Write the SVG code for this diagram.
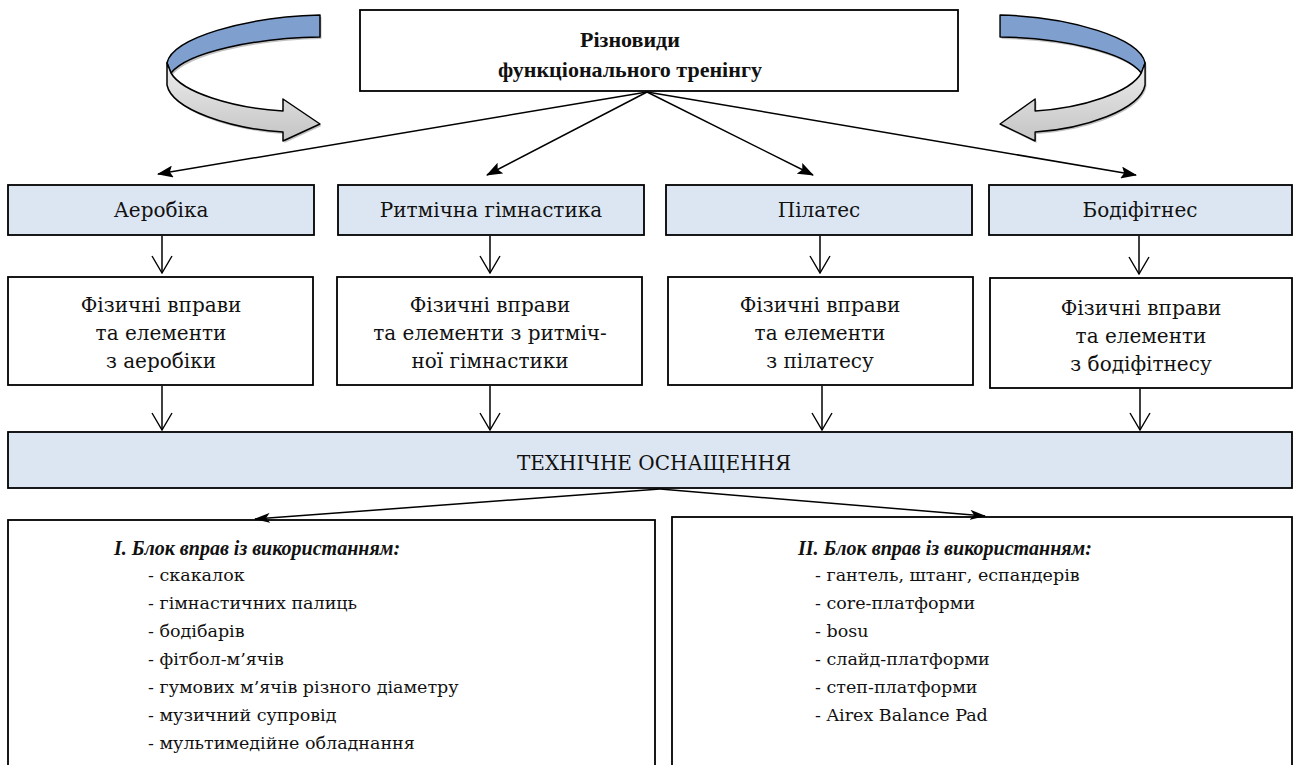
<svg xmlns="http://www.w3.org/2000/svg" width="1294" height="765" viewBox="0 0 1294 765">
<style>
text{font-family:"DejaVu Serif","Liberation Serif",serif;fill:#111}
.t{font-size:20px;text-anchor:middle}
.b{font-family:"Liberation Serif","DejaVu Serif",serif;font-weight:bold;font-size:22px}
.bi{font-family:"Liberation Serif","DejaVu Serif",serif;font-weight:bold;font-style:italic;font-size:20px;text-anchor:middle}
.li{font-size:17.5px}
.box{fill:#fff;stroke:#000;stroke-width:1.8}
.hd{fill:#DCE6F2;stroke:#000;stroke-width:1.8}
.con line{stroke:#000;stroke-width:1.5;fill:none}
</style>
<defs>
<marker id="tri" markerUnits="userSpaceOnUse" markerWidth="16" markerHeight="12" viewBox="0 0 16 12" refX="15" refY="6" orient="auto">
<path d="M0,0 L16,6 L0,12 L3,6 Z" fill="#000"/>
</marker>
<marker id="stealth" markerUnits="userSpaceOnUse" markerWidth="16" markerHeight="10" viewBox="0 0 16 10" refX="15" refY="5" orient="auto">
<path d="M0,0 L16,5 L0,10 L4,5 Z" fill="#000"/>
</marker>
<marker id="vee" markerUnits="userSpaceOnUse" markerWidth="20" markerHeight="24" viewBox="-2 -2 20 24" refX="17" refY="10" orient="auto">
<path d="M0,0 L17,10 L0,20" fill="none" stroke="#000" stroke-width="1.4"/>
</marker>
<linearGradient id="grey" x1="0" y1="0" x2="0" y2="1">
<stop offset="0" stop-color="#EDEDED"/>
<stop offset="1" stop-color="#C4C4C4"/>
</linearGradient>
<path id="curlShadow" d="M320,15 C245,17 172,38 167,63 L167,85 C172,110 232,129 283,132 L283,141 L320,124 L283,99 L283,111 C232,108 182,92 171,73 C188,52 255,38 320,37 Z" fill="#666"/>
<g id="curl">
<path d="M320,15 C245,17 172,38 167,63 L171,73 C188,52 255,38 320,37 Z" fill="#7F9FCF" stroke="#000" stroke-width="1.5" stroke-linejoin="round"/>
<path d="M167,63 L167,85 C172,110 232,129 283,132 L283,141 L320,124 L283,99 L283,111 C232,108 182,92 171,73 Z" fill="url(#grey)" stroke="#000" stroke-width="1.5" stroke-linejoin="round"/>
</g>
</defs>

<g id="curl-left">
<use href="#curlShadow" transform="translate(1.5,2)" opacity="0.4"/>
<use href="#curl"/>
</g>
<g id="curl-right" transform="translate(1303.4,0) scale(-0.948,1)">
<use href="#curlShadow" transform="translate(-1.5,2)" opacity="0.4"/>
<use href="#curl"/>
</g>

<g id="top">
<rect class="box" x="360" y="10" width="598" height="81"/>
<text class="t b" x="630" y="47">Різновиди</text>
<text class="t b" x="630" y="77">функціонального тренінгу</text>
</g>

<g id="aerobika">
<rect class="hd" x="8" y="185" width="306" height="50"/>
<text class="t" x="161" y="217">Аеробіка</text>
</g>
<g id="rytmichna">
<rect class="hd" x="338" y="185" width="306" height="50"/>
<text class="t" x="491" y="217">Ритмічна гімнастика</text>
</g>
<g id="pilates">
<rect class="hd" x="666" y="185" width="306" height="50"/>
<text class="t" x="819" y="217">Пілатес</text>
</g>
<g id="bodyfitness">
<rect class="hd" x="989" y="185" width="303" height="50"/>
<text class="t" x="1140" y="217">Бодіфітнес</text>
</g>

<g id="ex-aerobika">
<rect class="box" x="8" y="277" width="305" height="108"/>
<text class="t" x="161" y="312">Фізичні вправи</text>
<text class="t" x="161" y="340">та елементи</text>
<text class="t" x="161" y="368">з аеробіки</text>
</g>
<g id="ex-rytmichna">
<rect class="box" x="337" y="277" width="305" height="108"/>
<text class="t" x="490" y="312">Фізичні вправи</text>
<text class="t" x="490" y="340">та елементи з ритміч-</text>
<text class="t" x="490" y="368">ної гімнастики</text>
</g>
<g id="ex-pilates">
<rect class="box" x="668" y="277" width="305" height="108"/>
<text class="t" x="820" y="312">Фізичні вправи</text>
<text class="t" x="820" y="340">та елементи</text>
<text class="t" x="820" y="368">з пілатесу</text>
</g>
<g id="ex-bodyfitness">
<rect class="box" x="990" y="278" width="302" height="110"/>
<text class="t" x="1141" y="315">Фізичні вправи</text>
<text class="t" x="1141" y="343">та елементи</text>
<text class="t" x="1141" y="371">з бодіфітнесу</text>
</g>

<g id="tech">
<rect class="hd" x="8" y="432" width="1284" height="56"/>
<text class="t" x="654" y="470">ТЕХНІЧНЕ ОСНАЩЕННЯ</text>
</g>

<g id="block1">
<rect class="box" x="8" y="520" width="647" height="260"/>
<text class="bi" x="257" y="555">I. Блок вправ із використанням:</text>
<text class="li" x="148" y="581">- скакалок</text>
<text class="li" x="148" y="609">- гімнастичних палиць</text>
<text class="li" x="148" y="637">- бодібарів</text>
<text class="li" x="148" y="665">- фітбол-м’ячів</text>
<text class="li" x="148" y="693">- гумових м’ячів різного діаметру</text>
<text class="li" x="148" y="721">- музичний супровід</text>
<text class="li" x="148" y="749">- мультимедійне обладнання</text>
</g>
<g id="block2">
<rect class="box" x="672" y="517" width="620" height="260"/>
<text class="bi" x="945" y="555">II. Блок вправ із використанням:</text>
<text class="li" x="815" y="581">- гантель, штанг, еспандерів</text>
<text class="li" x="815" y="609">- core-платформи</text>
<text class="li" x="815" y="637">- bosu</text>
<text class="li" x="815" y="665">- слайд-платформи</text>
<text class="li" x="815" y="693">- степ-платформи</text>
<text class="li" x="815" y="721">- Airex Balance Pad</text>
</g>

<g id="connectors" class="con">
<line x1="647" y1="92" x2="158" y2="174" marker-end="url(#tri)"/>
<line x1="647" y1="92" x2="487" y2="175" marker-end="url(#tri)"/>
<line x1="647" y1="92" x2="813" y2="175" marker-end="url(#tri)"/>
<line x1="647" y1="92" x2="1136" y2="175" marker-end="url(#tri)"/>
<line x1="162" y1="236" x2="162" y2="273" marker-end="url(#vee)"/>
<line x1="490" y1="236" x2="490" y2="273" marker-end="url(#vee)"/>
<line x1="820" y1="236" x2="820" y2="273" marker-end="url(#vee)"/>
<line x1="1139" y1="236" x2="1139" y2="274" marker-end="url(#vee)"/>
<line x1="162" y1="386" x2="162" y2="430" marker-end="url(#vee)"/>
<line x1="490" y1="386" x2="490" y2="430" marker-end="url(#vee)"/>
<line x1="822" y1="386" x2="822" y2="430" marker-end="url(#vee)"/>
<line x1="1140" y1="389" x2="1140" y2="430" marker-end="url(#vee)"/>
<line x1="660" y1="489" x2="255" y2="519" marker-end="url(#stealth)"/>
<line x1="660" y1="489" x2="985" y2="516" marker-end="url(#stealth)"/>
</g>
</svg>
